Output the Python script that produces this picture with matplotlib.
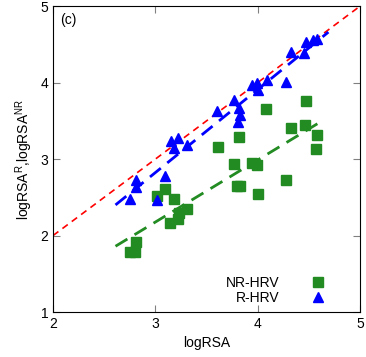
import matplotlib.pyplot as plt

plt.rcParams['font.family'] = ['Liberation Sans', 'DejaVu Sans']
plt.rcParams['mathtext.fontset'] = 'custom'
plt.rcParams['mathtext.rm'] = 'Liberation Sans'

# R-HRV points (triangles)
r_x = [2.75, 2.81, 2.81, 3.02, 3.09, 3.15, 3.22, 3.18, 3.31, 3.60, 3.77, 3.82, 3.83,
       3.81, 3.94, 3.99, 4.00, 4.09, 4.28, 4.32, 4.45, 4.47, 4.54, 4.58]
r_y = [2.48, 2.72, 2.64, 2.47, 2.78, 3.23, 3.27, 3.15, 3.18, 3.63, 3.77, 3.67, 3.58,
       3.49, 3.97, 4.00, 3.90, 4.03, 4.01, 4.40, 4.39, 4.53, 4.55, 4.57]

# NR-HRV points (squares)
nr_x = [2.75, 2.80, 2.81, 3.02, 3.09, 3.18, 3.14, 3.22, 3.23, 3.31, 3.61, 3.82, 3.77,
        3.94, 3.99, 3.80, 3.83, 4.00, 4.28, 4.08, 4.32, 4.46, 4.47, 4.58, 4.57]
nr_y = [1.79, 1.79, 1.91, 2.52, 2.61, 2.48, 2.17, 2.22, 2.29, 2.35, 3.16, 3.29, 2.93,
        2.95, 2.92, 2.65, 2.65, 2.54, 2.72, 3.66, 3.40, 3.45, 3.76, 3.32, 3.13]

# linear fit lines (endpoints) and identity line
r_fit_x = [2.61, 4.69]
r_fit_y = [2.40, 4.66]
nr_fit_x = [2.61, 4.63]
nr_fit_y = [1.86, 3.50]
diag = [2, 5]

fig = plt.figure(figsize=(3.66, 3.57), dpi=100)
ax = fig.add_axes([0.145, 0.126, 0.839, 0.857])

ax.plot(diag, diag, color='red', linestyle=(0, (4, 3)), linewidth=1.2)
ax.plot(r_fit_x, r_fit_y, color='blue', linestyle=(0, (5, 3)), linewidth=2)
ax.plot(nr_fit_x, nr_fit_y, color='#228B22', linestyle=(0, (5, 3)), linewidth=2)

ax.plot(nr_x, nr_y, 's', color='#228B22', markersize=7, linestyle='none', label='NR-HRV')
ax.plot(r_x, r_y, '^', color='blue', markersize=7, linestyle='none', label='R-HRV')

ax.set_xlim(2, 5)
ax.set_ylim(1, 5)
ax.set_xticks([2, 3, 4, 5])
ax.set_yticks([1, 2, 3, 4, 5])
ax.tick_params(direction='in', top=True, right=True, length=5, color='gray', labelsize=10)
ax.set_xlabel('logRSA', fontsize=10)
ax.set_ylabel(r'logRSA$^{\mathregular{R}}$,logRSA$^{\mathregular{NR}}$', fontsize=10)

ax.text(2.07, 4.82, '(c)', fontsize=10, ha='left', va='center')

ax.legend(loc='lower right', bbox_to_anchor=(0.915, 0.005), frameon=False,
          markerfirst=False, fontsize=10, handlelength=1.5, handletextpad=2.0,
          labelspacing=0.1, borderaxespad=0.0)

fig.savefig('out.png', dpi=100)
